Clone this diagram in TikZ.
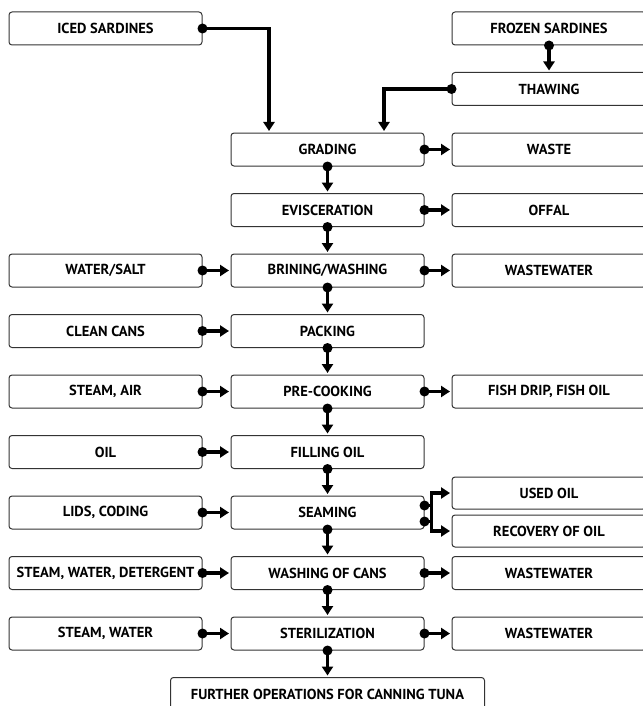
\documentclass[tikz,border=0pt]{standalone}
\usepackage{fontspec}
\setmainfont{PT Sans}
\usetikzlibrary{arrows.meta}
\tikzset{
  box/.style={draw=black!80, line width=1pt, rounded corners=3pt,
    minimum width=193pt, minimum height=33pt, inner sep=0pt,
    font=\bfseries\fontsize{14.5}{16}\selectfont, text=black},
  flow/.style={line width=3.6pt, -{Triangle[length=9pt,width=11pt]}, shorten >=1.5pt},
  dotmark/.style={fill=black},
}
\begin{document}
\begin{tikzpicture}[x=1pt,y=-1pt]
\useasboundingbox (0,0) rectangle (642,706);
% left column
\node[box] (ice)   at (105.5,28.5)  {ICED SARDINES};
\node[box] (salt)  at (105.5,270.5) {WATER/SALT};
\node[box] (cans)  at (105.5,331)   {CLEAN CANS};
\node[box] (air)   at (105.5,391.5) {STEAM, AIR};
\node[box] (oil)   at (105.5,452)   {OIL};
\node[box] (lids)  at (105.5,512.5) {LIDS, CODING};
\node[box] (det)   at (105.5,573)   {STEAM, WATER, DETERGENT};
\node[box] (sw)    at (105.5,633.5) {STEAM, WATER};
% middle column
\node[box] (grad)  at (327.5,149.5) {GRADING};
\node[box] (evis)  at (327.5,210)   {EVISCERATION};
\node[box] (brine) at (327.5,270.5) {BRINING/WASHING};
\node[box] (pack)  at (327.5,331)   {PACKING};
\node[box] (pre)   at (327.5,391.5) {PRE-COOKING};
\node[box] (fill)  at (327.5,452)   {FILLING OIL};
\node[box] (seam)  at (327.5,512.5) {SEAMING};
\node[box] (wash)  at (327.5,573)   {WASHING OF CANS};
\node[box] (ster)  at (327.5,633.5) {STERILIZATION};
\node[box, minimum width=314pt] (fur) at (327.5,694) {FURTHER OPERATIONS FOR CANNING TUNA};
% right column
\node[box, minimum width=194pt] (frozen) at (549,28.5)  {FROZEN SARDINES};
\node[box, minimum width=194pt] (thaw)   at (549,89)    {THAWING};
\node[box, minimum width=194pt] (waste)  at (549,149.5) {WASTE};
\node[box, minimum width=194pt] (offal)  at (549,210)   {OFFAL};
\node[box, minimum width=194pt] (ww1)    at (549,270.5) {WASTEWATER};
\node[box, minimum width=194pt] (drip)   at (549,391.5) {FISH DRIP, FISH OIL};
\node[box, minimum width=194pt, minimum height=32pt] (used) at (549,493) {USED OIL};
\node[box, minimum width=194pt, minimum height=32pt] (rec)  at (549,531) {RECOVERY OF OIL};
\node[box, minimum width=194pt] (ww2)    at (549,573)   {WASTEWATER};
\node[box, minimum width=194pt] (ww3)    at (549,633.5) {WASTEWATER};
% top connectors
\fill[dotmark] (ice.east) circle (5);
\draw[flow] (ice.east) -| ([xshift=-58.5pt]grad.north);
\fill[dotmark] (thaw.west) circle (5);
\draw[flow] (thaw.west) -| ([xshift=56.5pt]grad.north);
\fill[dotmark] (frozen.south) circle (5);
\draw[flow] (frozen.south) -- (thaw.north);
% vertical chain
\foreach \a/\b in {grad/evis,evis/brine,brine/pack,pack/pre,pre/fill,fill/seam,seam/wash,wash/ster,ster/fur}{
  \fill[dotmark] (\a.south) circle (5);
  \draw[flow] (\a.south) -- (\b.north);
}
% horizontal links
\foreach \a/\b in {salt/brine,cans/pack,air/pre,oil/fill,lids/seam,det/wash,sw/ster,
                   grad/waste,evis/offal,brine/ww1,pre/drip,wash/ww2,ster/ww3}{
  \fill[dotmark] (\a.east) circle (5);
  \draw[flow] (\a.east) -- (\b.west);
}
% seaming fork
\coordinate (s1) at ([yshift=-9pt]seam.east);
\coordinate (s2) at ([yshift=7pt]seam.east);
\fill[dotmark] (s1) circle (5);
\fill[dotmark] (s2) circle (5);
\draw[flow] (s1) -- ++(7,0) |- (used.west);
\draw[flow] (s2) -- ++(7,0) |- (rec.west);
\end{tikzpicture}
\end{document}
